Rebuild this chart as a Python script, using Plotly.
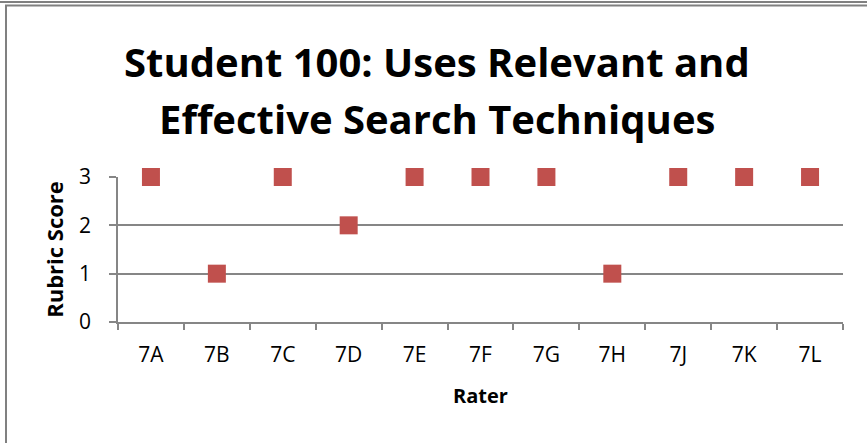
import plotly.graph_objects as go

raters = ["7A", "7B", "7C", "7D", "7E", "7F", "7G", "7H", "7J", "7K", "7L"]
scores = [3, 1, 3, 2, 3, 3, 3, 1, 3, 3, 3]
title_lines = ["Student 100: Uses Relevant and", "Effective Search Techniques"]

W, H = 867, 443
# plot area in pixels
L, R, T, B = 118, 843, 177, 322


def px_x(p):
    return (p - L) / (R - L)


def px_y(p):
    return (B - p) / (B - T)


fig = go.Figure(
    go.Scatter(
        x=raters,
        y=scores,
        mode="markers",
        marker=dict(symbol="square", size=18, color="#C0504D"),
        cliponaxis=False,
    )
)

grey = "#868686"
font = "Open Sans, Calibri, sans-serif"

fig.update_xaxes(
    type="category",
    range=[-0.5, 10.5],
    tickson="boundaries",
    ticks="outside",
    ticklen=6,
    tickwidth=1.5,
    tickcolor=grey,
    showline=True,
    linecolor=grey,
    linewidth=1.5,
    showgrid=False,
    automargin=False,
    ticklabelstandoff=13,
    tickfont=dict(family=font, size=21, color="black"),
    title=dict(text="<b>Rater</b>", font=dict(family=font, size=20, color="black"), standoff=22),
)
fig.update_yaxes(
    range=[0, 3],
    dtick=1,
    ticks="outside",
    ticklen=7,
    tickwidth=1.5,
    tickcolor=grey,
    showline=True,
    linecolor=grey,
    linewidth=1.5,
    gridcolor=grey,
    gridwidth=1.5,
    zeroline=False,
    automargin=False,
    ticklabelstandoff=14,
    tickfont=dict(family=font, size=21, color="black"),
    title=dict(text="<b>Rubric Score</b>", font=dict(family=font, size=22, color="black"), standoff=9),
)

# title as two lines placed to match the original spacing
for text, ypx in zip(title_lines, [61, 118]):
    fig.add_annotation(
        text=f"<b>{text}</b>",
        xref="paper", yref="paper",
        x=px_x(437), y=px_y(ypx),
        xanchor="center", yanchor="middle",
        showarrow=False,
        font=dict(family=font, size=40, color="black"),
    )

# chart border (cropped Excel frame)
line = dict(color="#808080", width=2)
fig.add_shape(type="line", xref="paper", yref="paper",
              x0=px_x(0), x1=px_x(W), y0=px_y(2), y1=px_y(2), line=line)
fig.add_shape(type="line", xref="paper", yref="paper",
              x0=px_x(5), x1=px_x(W), y0=px_y(5.5), y1=px_y(5.5), line=line)
fig.add_shape(type="line", xref="paper", yref="paper",
              x0=px_x(6), x1=px_x(6), y0=px_y(5.5), y1=px_y(H), line=line)

fig.update_layout(
    width=W,
    height=H,
    margin=dict(l=L, r=W - R, t=T, b=H - B),
    paper_bgcolor="white",
    plot_bgcolor="white",
    showlegend=False,
)

# drop the default page margin so the figure sits at the window corner
fig.write_html(
    "out.html",
    config={"displayModeBar": False},
    post_script="document.body.style.margin='0';",
)
